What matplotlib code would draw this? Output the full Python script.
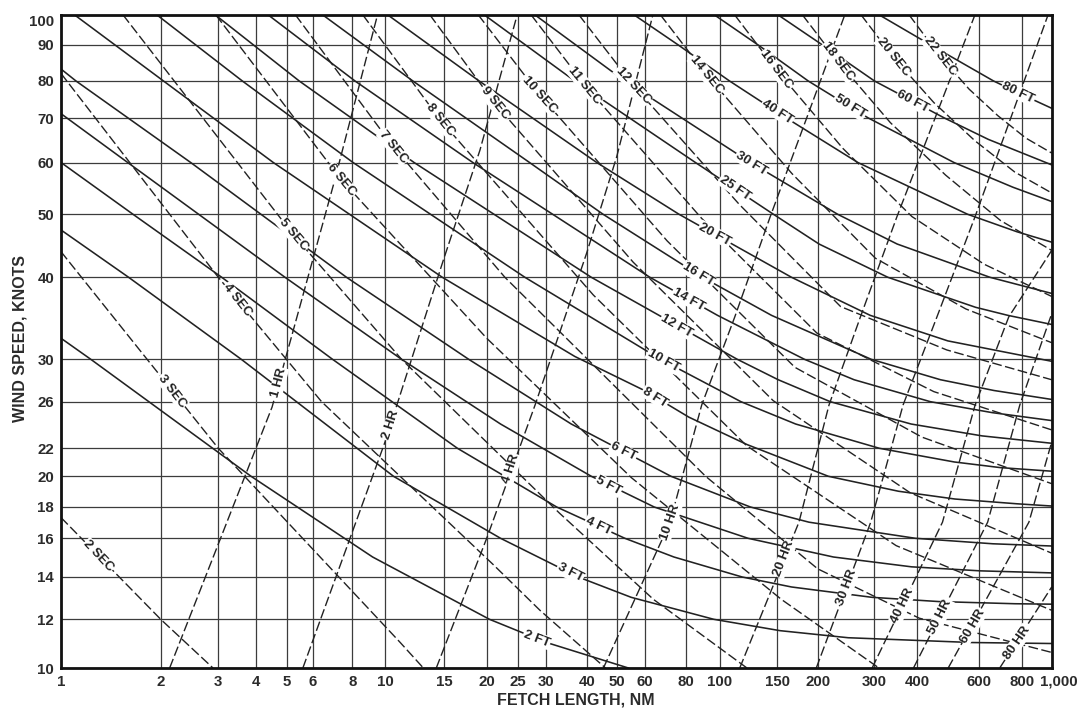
import numpy as np
import matplotlib.pyplot as plt
from matplotlib.ticker import FixedLocator, NullLocator
from matplotlib.transforms import ScaledTranslation

plt.rcParams['font.family'] = ['Liberation Sans', 'DejaVu Sans']

# axis ticks
fetch_ticks = [1, 2, 3, 4, 5, 6, 8, 10, 15, 20, 25, 30, 40, 50, 60, 80,
               100, 150, 200, 300, 400, 600, 800, 1000]
fetch_tick_labels = ['1', '2', '3', '4', '5', '6', '8', '10', '15', '20', '25',
                     '30', '40', '50', '60', '80', '100', '150', '200', '300',
                     '400', '600', '800', '1,000']
wind_ticks = [10, 12, 14, 16, 18, 20, 22, 26, 30, 40, 50, 60, 70, 80, 90, 100]

# the printed log grid is not perfectly even: offset of each grid line (px)
fetch_grid_offset = [0, 99.7, 157.3, 194.7, 225.7, 251.7, 291.3, 324, 383.3,
                     425.7, 456.7, 484.7, 525.7, 555.7, 584, 625, 659, 716.3,
                     756.7, 813, 856.3, 918, 960.7, 990.7]
wind_grid_offset = [0, 48.7, 91, 129.7, 161, 191.7, 219.7, 266.3, 308.7,
                    390.7, 453.7, 505.5, 550, 587, 623, 653]

# wave height curves (fetch NM, wind knots)
height_ft = [2, 3, 4, 5, 6, 8, 10, 12, 14, 16, 20, 25, 30, 40, 50, 60, 80]
height_fetch = [
    [1.0, 1.23, 3.86, 9.19, 20.4, 30.2, 53.9],
    [1.0, 1.6, 3.58, 10.6, 22.1, 37.7, 54.9, 96, 153, 249, 574, 1000],
    [1.0, 1.65, 3.08, 6.93, 16.4, 32.4, 52.7, 73.5, 117, 166, 296, 462, 765, 1000],
    [1.0, 1.59, 4.94, 11.2, 22.1, 41.4, 64, 122, 224, 385, 605, 1000],
    [1.0, 1.11, 2.47, 7.67, 17.7, 35.9, 72, 124, 188, 395, 659, 1000],
    [1.10, 2.04, 4.54, 14.8, 36.8, 59.8, 81.5, 121, 216, 353, 512, 774, 1000],
    [1.95, 3.61, 8.04, 26.2, 66.9, 116, 171, 311, 510, 693, 1000],
    [2.94, 5.46, 12.2, 41.4, 113, 151, 219, 384, 613, 1000],
    [4.38, 8.15, 18.2, 62.1, 98.4, 182, 260, 436, 656, 1000],
    [6.46, 12.1, 27, 45.2, 89.2, 144, 294, 466, 664, 1000],
    [10.2, 19.0, 43.1, 76.2, 109, 166, 292, 489, 1000],
    [19.7, 36.8, 85.1, 146, 202, 329, 587, 729, 1000],
    [28, 52.7, 77.7, 124, 231, 350, 646, 1000],
    [56, 75.8, 107, 160, 267, 557, 775, 1000],
    [96.5, 131, 187, 288, 509, 754, 1000],
    [151, 207, 301, 478, 639, 1000],
    [311, 437, 662, 810, 1000],
]
height_wind = [
    [32.3, 30, 20, 15, 12, 11, 10],
    [47.3, 40, 30, 20, 16, 14, 13, 12, 11.5, 11.2, 11.0, 10.96],
    [60, 50, 40, 30, 22, 18, 16, 15, 14, 13.5, 13, 12.8, 12.7, 12.68],
    [71.1, 60, 40, 30, 24, 20, 18, 16, 15, 14.5, 14.3, 14.2],
    [83.2, 80, 60, 40, 30, 24, 20, 18, 17, 16, 15.7, 15.58],
    [100, 80, 60, 40, 30.3, 27, 24.6, 22.3, 20, 19, 18.5, 18.2, 18.06],
    [100, 80, 60, 40, 30, 26, 24, 22, 21, 20.6, 20.35],
    [100, 80, 60, 40, 30, 28, 26, 24, 23, 22.4],
    [100, 80, 60, 40, 35, 30, 28, 26, 25, 24.3],
    [100, 80, 60, 50, 40, 35, 30, 28, 27, 26.2],
    [100, 80, 60, 50, 45, 40, 35, 32, 29.8],
    [100, 80, 60, 50, 45, 40, 36, 35, 33.9],
    [100, 80, 70, 60, 50, 45, 40, 37.8],
    [100, 90, 80, 70, 60, 50, 47, 45.3],
    [100, 90, 80, 70, 60, 55, 52.3],
    [100, 90, 80, 70, 65, 59.5],
    [100, 90, 80, 76, 72.5],
]
height_label_at = [28.3, 35.6, 43.6, 47, 52.2, 64.4, 68.2, 75, 81.2, 86.7,
                   96.8, 111, 125, 150, 252, 389, 781]

# wave period curves
period_sec = [2, 3, 4, 5, 6, 7, 8, 9, 10, 11, 12, 14, 16, 18, 20, 22]
period_fetch = [
    [1, 2, 2.89],
    [1, 3, 11.1, 13],
    [1, 3, 6.4, 10, 21, 28.9, 46],
    [1.54, 5.24, 11.2, 33, 63.7, 121],
    [2.95, 7.4, 20, 55, 154.5, 310],
    [5.32, 10.6, 22.8, 91, 200, 405, 1000],
    [8.6, 14.6, 42.0, 120.8, 347.6, 1000],
    [13.6, 21.2, 55.6, 145.6, 381.6, 1000],
    [18.9, 28.9, 70.1, 170, 412.3, 1000],
    [27.3, 39.5, 88.6, 198.7, 445.8, 1000],
    [37.9, 55.6, 114.5, 235.8, 485.6, 1000],
    [66.9, 91.6, 166.5, 302.7, 550, 1000],
    [111, 149, 239.8, 386, 621, 1000],
    [179.5, 232, 334.3, 481.7, 694, 1000],
    [273.5, 341, 446, 584, 764, 1000],
    [379, 464, 562, 681, 825, 1000],
]
period_wind = [
    [17.3, 12, 10],
    [43.8, 22, 11.0, 10],
    [82, 40, 26, 21, 14.6, 12.4, 10],
    [100, 46.5, 30, 17.6, 12.9, 10],
    [100, 56.4, 32.3, 19.9, 12.9, 10],
    [100, 63.3, 40, 20, 14.4, 12.05, 10.6],
    [100, 69.5, 37.6, 22.2, 15.6, 12.4],
    [100, 73.8, 42.2, 26.1, 18.9, 15.2],
    [100, 76, 45.5, 29.2, 22.9, 19.5],
    [100, 78.8, 49.3, 32.9, 26.9, 23.5],
    [100, 78.8, 51.8, 36.1, 31.0, 28],
    [100, 81.6, 57.7, 42.8, 35.8, 31.8],
    [100, 83, 63, 49.6, 41.9, 37.4],
    [100, 85.2, 68.9, 57.4, 48.9, 44],
    [100, 86.5, 74.0, 64.7, 58.0, 53.9],
    [100, 86.8, 77.7, 70.6, 65.3, 62],
]
period_label_at = [1.30, 2.17, 3.46, 5.24, 7.4, 10.6, 14.6, 21.2, 28.9, 39.5,
                   55.6, 91.6, 149, 232, 341, 464]

# minimum duration curves
duration_hr = [1, 2, 4, 10, 20, 30, 40, 50, 60, 80]
duration_fetch = [
    [2.13, 4.5, 7.0, 9.5],
    [5.6, 10, 14.9, 19.1, 24.9],
    [14.2, 20, 28, 40, 50, 63.4],
    [45.3, 71.5, 88.7, 111, 142.5, 243],
    [115, 175, 217, 272, 349, 584],
    [198, 293, 364, 455, 584, 973],
    [296, 472, 585, 733, 1000],
    [390, 636, 790, 1000],
    [490, 844, 1000],
    [690, 1000],
]
duration_wind = [
    [10, 25.5, 55.8, 100],
    [10, 22.5, 42.5, 62.6, 100],
    [10, 16, 25.7, 43.6, 61.2, 100],
    [10, 17, 25.7, 34.8, 49.5, 100],
    [10, 17, 25.7, 34.8, 49.5, 100],
    [10, 17, 25.7, 34.8, 49.5, 100],
    [10, 17, 25.7, 34.8, 44],
    [10, 17, 25.7, 35.2],
    [10, 17, 22.5],
    [10, 13.5],
]
duration_label_wind = [27.7, 23.9, 20.5, 17.0, 14.9, 13.5, 12.6, 12.1, 11.7, 11.0]


def grid_scale(values, offsets):
    """Log-like scale that follows the printed grid line positions."""
    lv = np.log10(values)
    off = np.asarray(offsets, float)
    lo = (off[1] - off[0]) / (lv[1] - lv[0])
    hi = (off[-1] - off[-2]) / (lv[-1] - lv[-2])

    def forward(v):
        lx = np.log10(np.maximum(np.asarray(v, float), 1e-9))
        out = np.interp(lx, lv, off)
        out = np.where(lx < lv[0], off[0] + (lx - lv[0]) * lo, out)
        return np.where(lx > lv[-1], off[-1] + (lx - lv[-1]) * hi, out)

    def inverse(q):
        q = np.asarray(q, float)
        lx = np.interp(q, off, lv)
        lx = np.where(q < off[0], lv[0] + (q - off[0]) / lo, lx)
        lx = np.where(q > off[-1], lv[-1] + (q - off[-1]) / hi, lx)
        return 10 ** lx

    return forward, inverse


fig = plt.figure(figsize=(10.8, 7.17), dpi=100)
ax = fig.add_axes([61 / 1080, 49 / 717, 990.7 / 1080, 653 / 717])
ax.set_xscale('function', functions=grid_scale(fetch_ticks, fetch_grid_offset))
ax.set_yscale('function', functions=grid_scale(wind_ticks, wind_grid_offset))
ax.set_xlim(1, 1000)
ax.set_ylim(10, 100)

ax.xaxis.set_major_locator(FixedLocator(fetch_ticks))
ax.xaxis.set_minor_locator(NullLocator())
ax.set_xticklabels(fetch_tick_labels)
ax.yaxis.set_major_locator(FixedLocator(wind_ticks))
ax.yaxis.set_minor_locator(NullLocator())
ax.set_yticklabels([str(v) for v in wind_ticks])
ax.tick_params(length=0, labelsize=10.8, colors='#2b2b2b', pad=5)
for lab in ax.get_xticklabels() + ax.get_yticklabels():
    lab.set_fontweight('bold')
ax.get_yticklabels()[-1].set_verticalalignment('top')
last = ax.get_xticklabels()[-1]
last.set_transform(last.get_transform()
                   + ScaledTranslation(7 / 100, 0, fig.dpi_scale_trans))

ax.grid(True, color='#3c3c3c', lw=0.9)
ax.set_axisbelow(True)
for sp in ax.spines.values():
    sp.set_linewidth(2.0)
    sp.set_color('#111111')

line_color = '#222222'
for f, w in zip(height_fetch, height_wind):
    ax.plot(f, w, color=line_color, lw=1.15)
for f, w in zip(period_fetch, period_wind):
    ax.plot(f, w, color=line_color, lw=1.0, dashes=(7, 2.5))
for f, w in zip(duration_fetch, duration_wind):
    ax.plot(f, w, color=line_color, lw=1.0, dashes=(7, 2.5))


def place_label(fetch, wind, text, at=None, at_wind=None):
    lf = np.log10(fetch)
    lw = np.log10(wind)
    if at_wind is not None:
        order = np.argsort(lw)
        x = 10 ** np.interp(np.log10(at_wind), lw[order], lf[order])
    else:
        x = at
    y = 10 ** np.interp(np.log10(x), lf, lw)
    xa, xb = x / 1.03, x * 1.03
    pa = ax.transData.transform((xa, 10 ** np.interp(np.log10(xa), lf, lw)))
    pb = ax.transData.transform((xb, 10 ** np.interp(np.log10(xb), lf, lw)))
    ang = np.degrees(np.arctan2(pb[1] - pa[1], pb[0] - pa[0]))
    ax.text(x, y, text, rotation=ang, rotation_mode='anchor',
            ha='center', va='center', fontsize=9.5, fontweight='bold',
            color='#222222', zorder=5,
            bbox=dict(facecolor='white', edgecolor='none', pad=0.6))


for f, w, h, at in zip(height_fetch, height_wind, height_ft, height_label_at):
    place_label(f, w, f'{h} FT', at=at)
for f, w, t, at in zip(period_fetch, period_wind, period_sec, period_label_at):
    place_label(f, w, f'{t} SEC', at=at)
for f, w, d, aw in zip(duration_fetch, duration_wind, duration_hr,
                       duration_label_wind):
    place_label(f, w, f'{d} HR', at_wind=aw)

fig.text(576 / 1080, 1 - 700 / 717, 'FETCH LENGTH, NM', ha='center',
         va='center', fontsize=11.5, fontweight='bold', color='#2b2b2b')
fig.text(20 / 1080, 1 - 338 / 717, 'WIND SPEED, KNOTS', ha='center',
         va='center', rotation=90, fontsize=11.5, fontweight='bold',
         color='#2b2b2b')

fig.savefig('out.png', dpi=100)
